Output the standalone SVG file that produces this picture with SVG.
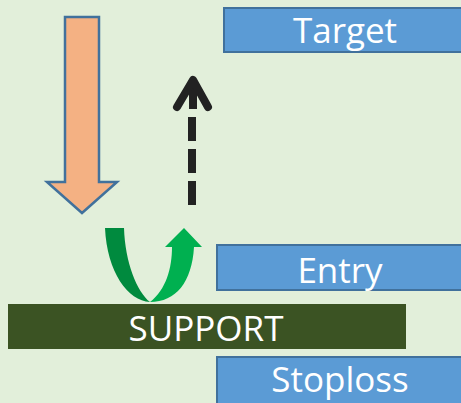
<svg xmlns="http://www.w3.org/2000/svg" width="461" height="403" viewBox="0 0 461 403">
<defs>
<style>
.box{fill:#5B9BD5;stroke:#41719C;stroke-width:2}
.lbl{font-family:"Open Sans","Liberation Sans",sans-serif;font-size:35px;fill:#FFFFFF;text-anchor:middle}
</style>
</defs>
<rect width="461" height="403" fill="#E2EFDA"/>
<g id="connectors">
<path id="down-arrow" d="M65,17 L99,17 L99,182 L117,182 L82,213 L47,182 L65,182 Z" fill="#F4B183" stroke="#41719C" stroke-width="2.5" stroke-linejoin="miter"/>
<g id="dashed-up-arrow" stroke="#222222" stroke-width="8" fill="none">
<line x1="192" y1="205" x2="192" y2="117" stroke-dasharray="24,8"/>
<line x1="193" y1="82" x2="193" y2="109"/>
<polyline points="177,107 193,80 208,107" stroke-linecap="round" stroke-linejoin="round"/>
</g>
<g id="u-turn-arrow">
<path d="M105,228 L124,228 C125,262 137,292 150,302 C128,301 107,272 105,228 Z" fill="#008A3E"/>
<path d="M150,302 C166,290 172,268 172,247 L165,247 L184,228 L202,247 L194,247 C192,282 176,302 150,302 Z" fill="#00B050"/>
</g>
</g>
<g id="target">
<rect class="box" x="224" y="8" width="245" height="44"/>
<text class="lbl" x="345" y="43">Target</text>
</g>
<g id="entry">
<rect class="box" x="217" y="245" width="252" height="45"/>
<text class="lbl" x="340" y="283">Entry</text>
</g>
<g id="support">
<rect x="8" y="304" width="398" height="45" fill="#3B5323"/>
<text class="lbl" x="206" y="341" font-size="36">SUPPORT</text>
</g>
<g id="stoploss">
<rect class="box" x="217" y="357" width="252" height="50"/>
<text class="lbl" x="340" y="392">Stoploss</text>
</g>
</svg>
